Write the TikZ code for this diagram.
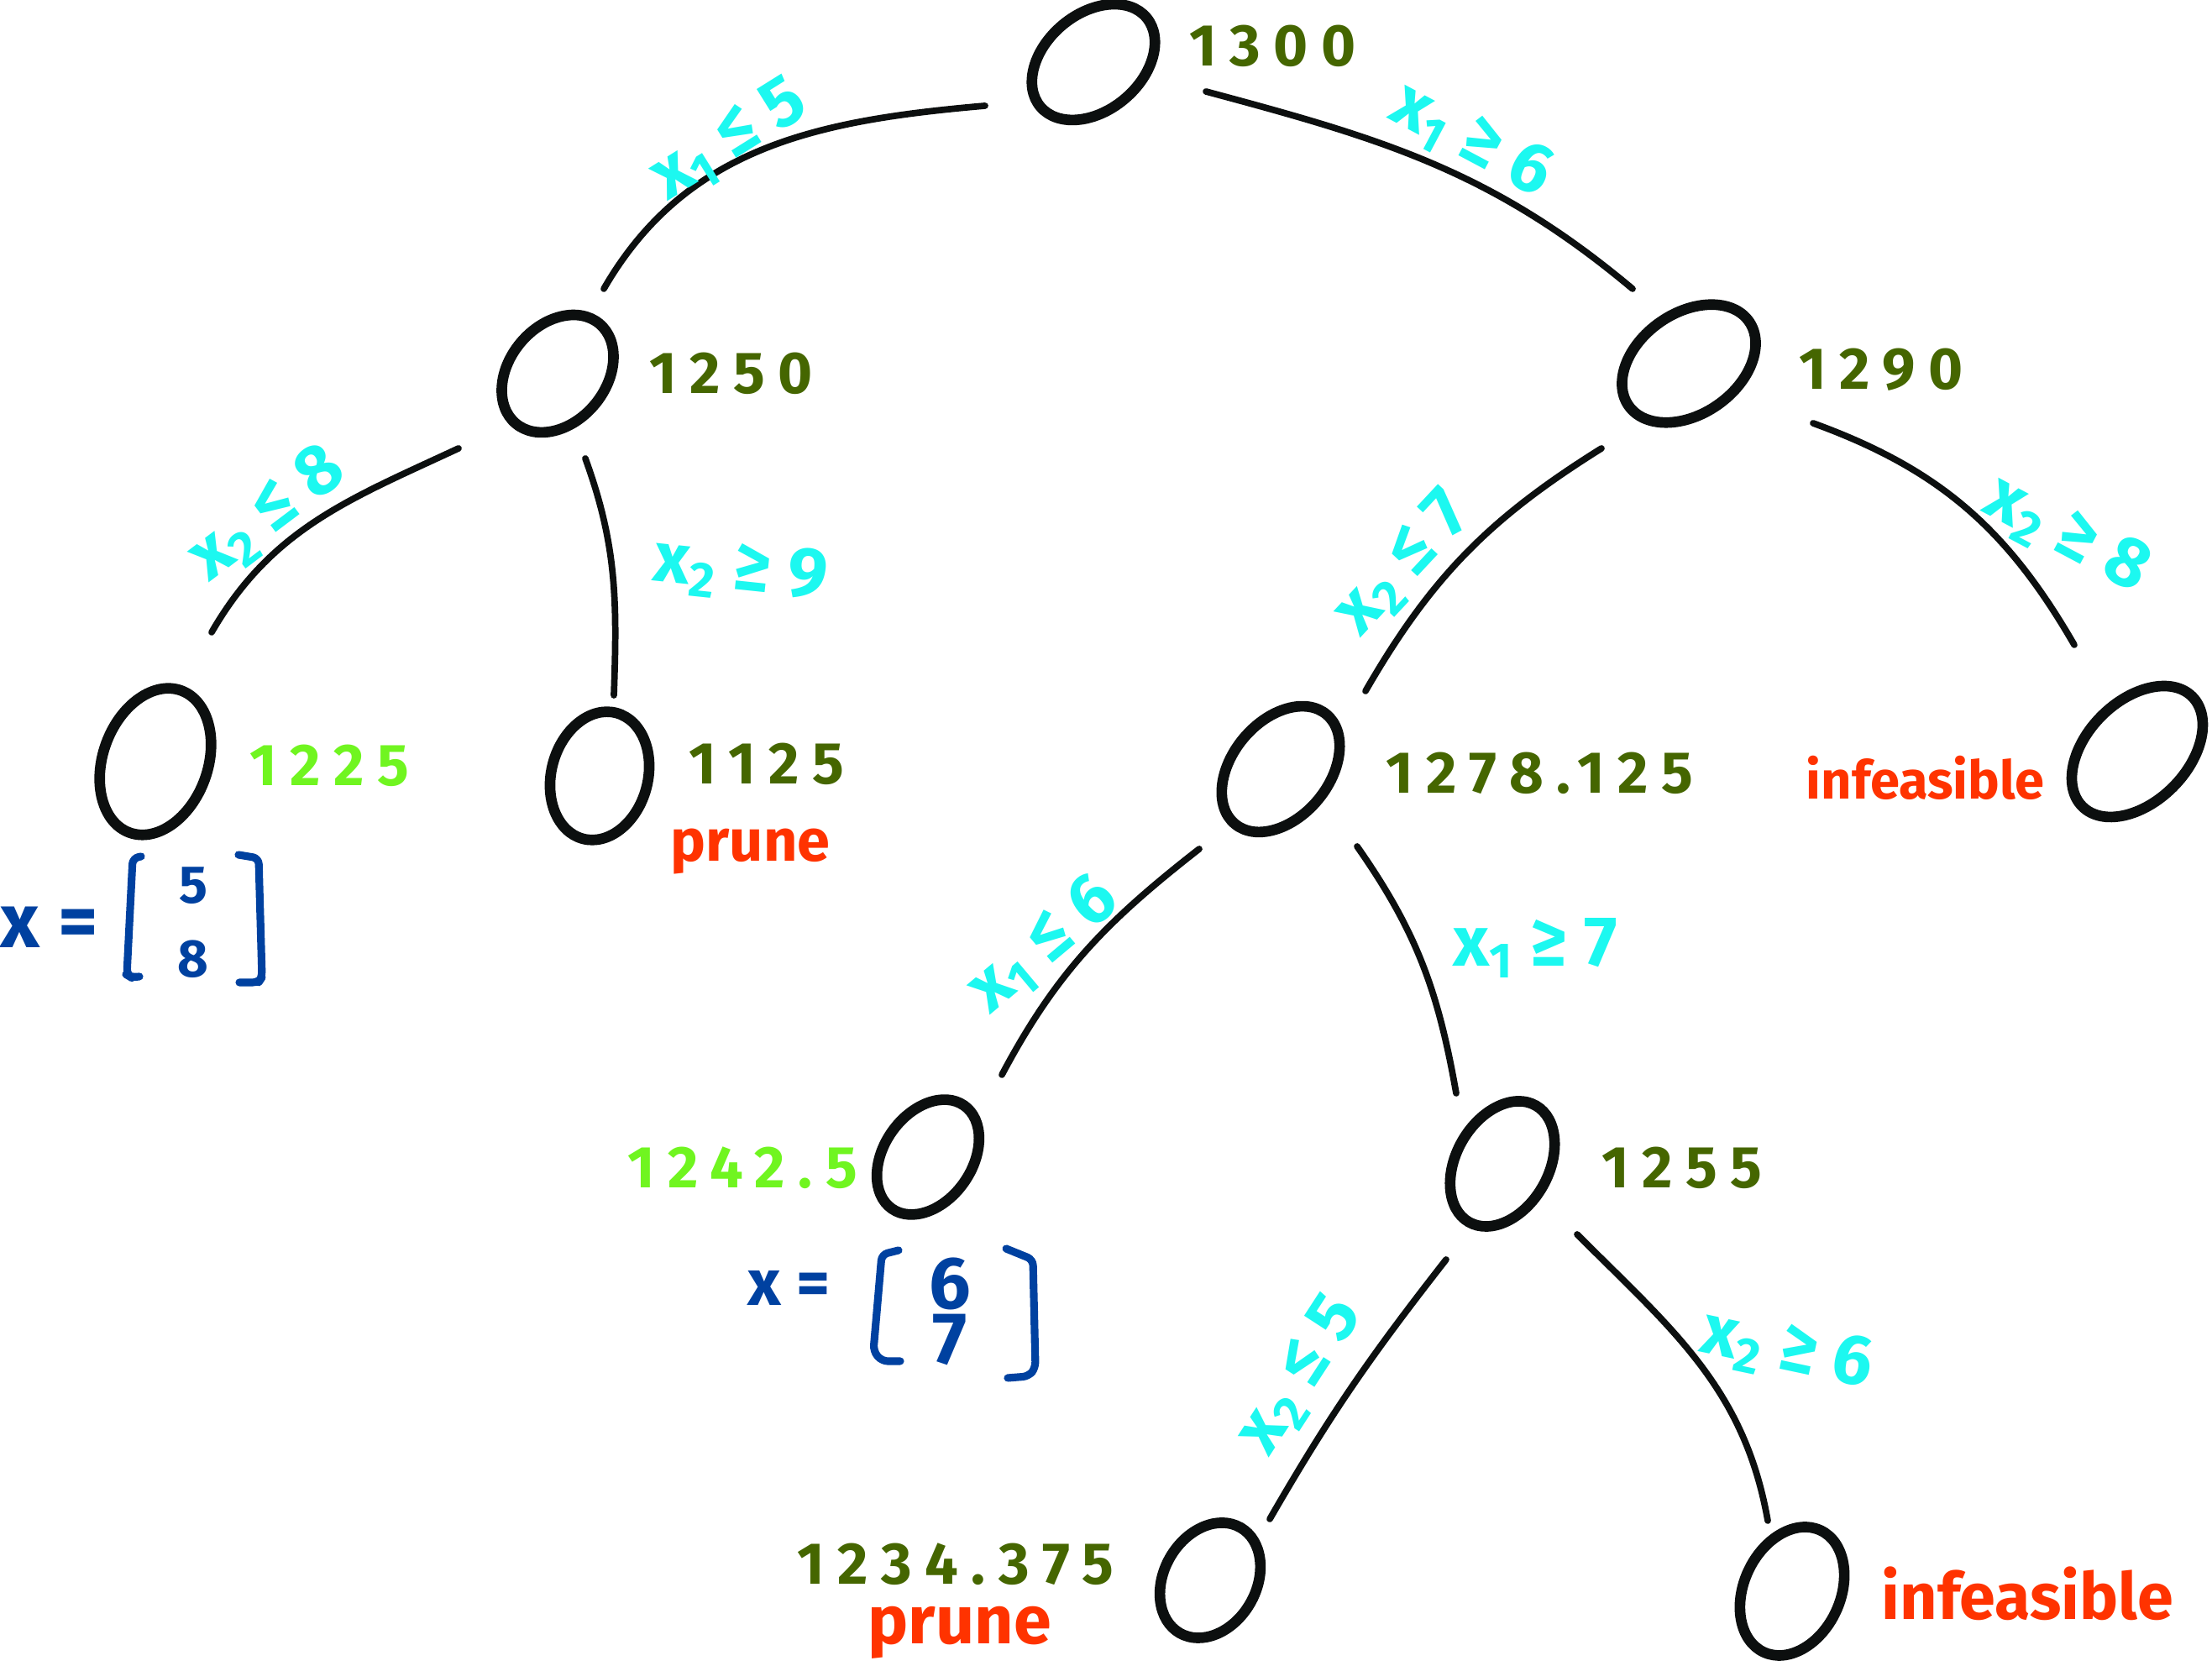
\documentclass[tikz,border=0pt]{standalone}
\usepackage{fontspec}
\setmainfont{Fira Sans}
\usetikzlibrary{shapes.geometric,calc}
\definecolor{ink}{HTML}{0C0F0F}
\definecolor{lblcyan}{HTML}{1CF8F0}
\definecolor{bndgreen}{HTML}{456600}
\definecolor{bndlime}{HTML}{70F520}
\definecolor{prunered}{HTML}{FF3300}
\definecolor{vecblue}{HTML}{0041A0}
\tikzset{
  bb/.style={ellipse, draw=ink, line width=3.6pt, inner sep=0pt},
  edge/.style={draw=ink, line width=2.2pt, line cap=round},
  bnd/.style={text=bndgreen, anchor=west, inner sep=0pt,
    font=\fontsize{20}{24}\selectfont\bfseries\addfontfeatures{LetterSpace=22}},
  bndl/.style={bnd, text=bndlime},
  status/.style={text=prunered, anchor=west, inner sep=0pt,
    font=\fontsize{20}{24}\selectfont\bfseries},
  elab/.style={text=lblcyan, inner sep=0pt,
    font=\fontsize{24}{28}\selectfont\bfseries},
  vec/.style={text=vecblue, inner sep=0pt, font=\fontsize{22}{26}\selectfont\bfseries},
  brk/.style={draw=vecblue, line width=2.6pt, line cap=round, line join=round, rounded corners=2pt}
}
\begin{document}
\begin{tikzpicture}[x=1cm,y=1cm]
\useasboundingbox (0,0) rectangle (26.34,19.84);
% tree nodes
\node[bb, minimum width=1.65cm, minimum height=1.15cm, rotate=40] (root) at (13.02,19.10) {};
\node[bb, minimum width=1.55cm, minimum height=1.15cm, rotate=50] (n1250) at (6.64,15.39) {};
\node[bb, minimum width=1.75cm, minimum height=1.20cm, rotate=35] (n1290) at (20.11,15.51) {};
\node[bb, minimum width=1.80cm, minimum height=1.25cm, rotate=70] (n1225) at (1.85,10.77) {};
\node[bb, minimum width=1.55cm, minimum height=1.15cm, rotate=75] (n1125) at (7.14,10.60) {};
\node[bb, minimum width=1.70cm, minimum height=1.15cm, rotate=50] (n1278) at (15.25,10.68) {};
\node[bb, minimum width=1.85cm, minimum height=1.20cm, rotate=45] (ninf1) at (25.45,10.89) {};
\node[bb, minimum width=1.50cm, minimum height=1.05cm, rotate=55] (n1242) at (11.05,6.06) {};
\node[bb, minimum width=1.60cm, minimum height=1.10cm, rotate=60] (n1255) at (17.89,5.98) {};
\node[bb, minimum width=1.45cm, minimum height=1.10cm, rotate=60] (n1234) at (14.41,1.02) {};
\node[bb, minimum width=1.60cm, minimum height=1.15cm, rotate=65] (ninf2) at (21.34,0.89) {};
% bounds
\node[bnd] (l1300) at (14.16,19.29) {1300};
\node[bnd] (l1250) at (7.73,15.39) {1250};
\node[bnd] (l1290) at (21.42,15.44) {1290};
\node[bndl] (l1225) at (2.97,10.72) {1225};
\node[bnd] (l1125) at (8.20,10.74) {1125};
\node[status] (p1) at (7.98,9.70) {prune};
\node[bnd] (l1278) at (16.50,10.63) {1278.125};
\node[status, font=\fontsize{18}{22}\selectfont\bfseries] (i1) at (21.50,10.58) {infeasible};
\node[bndl, anchor=east] (l1242) at (10.22,5.93) {1242.5};
\node[bnd] (l1255) at (19.07,5.93) {1255};
\node[bnd] (l1234) at (9.49,1.21) {1234.375};
\node[status, font=\fontsize{23}{27}\selectfont\bfseries] (p2) at (10.33,0.40) {prune};
\node[status, font=\fontsize{22}{26}\selectfont\bfseries] (i2) at (22.40,0.86) {infeasible};
% edges
\draw[edge] ($(root)+(-1.29,-0.52)$) to[out=185,in=60] ($(n1250)+(0.55,1.01)$);
\draw[edge] ($(root)+(1.34,-0.35)$) to[out=-15,in=140] ($(n1290)+(-0.67,0.89)$);
\draw[edge] ($(n1250)+(-1.18,-0.89)$) to[out=205,in=60] ($(n1225)+(0.67,1.54)$);
\draw[edge] ($(n1250)+(0.33,-1.01)$) to[out=-70,in=88] ($(n1125)+(0.17,0.96)$);
\draw[edge] ($(n1290)+(-1.04,-1.01)$) to[out=212,in=60] ($(n1278)+(1.01,0.93)$);
\draw[edge] ($(n1290)+(1.48,-0.71)$) to[out=-20,in=120] ($(ninf1)+(-0.75,1.27)$);
\draw[edge] ($(n1278)+(-0.97,-0.95)$) to[out=218,in=62] ($(n1242)+(0.88,0.98)$);
\draw[edge] ($(n1278)+(0.91,-0.92)$) to[out=-55,in=100] ($(n1255)+(-0.55,0.84)$);
\draw[edge] ($(n1255)+(-0.67,-1.14)$) to[out=232,in=60] ($(n1234)+(0.71,0.73)$);
\draw[edge] ($(n1255)+(0.89,-0.84)$) to[out=-45,in=100] ($(ninf2)+(-0.29,0.84)$);
% edge labels
\node[elab, rotate=32] (e1) at (8.69,18.16) {x\textsubscript{1} ≤ 5};
\node[elab, rotate=-28] (e2) at (17.52,18.16) {x\textsubscript{1} ≥ 6};
\node[elab, rotate=37] (e3) at (3.19,13.71) {x\textsubscript{2} ≤ 8};
\node[elab, rotate=-6] (e4) at (8.82,13.04) {x\textsubscript{2} ≥ 9};
\node[elab, rotate=47] (e5) at (16.72,13.12) {x\textsubscript{2} ≤ 7};
\node[elab, rotate=-28] (e6) at (24.61,13.46) {x\textsubscript{2} ≥ 8};
\node[elab, rotate=40] (e7) at (12.43,8.58) {x\textsubscript{1} ≤ 6};
\node[elab] (e8) at (18.28,8.55) {x\textsubscript{1} ≥ 7};
\node[elab, rotate=57] (e9) at (15.49,3.46) {x\textsubscript{2} ≤ 5};
\node[elab, rotate=-12] (e10) at (21.28,3.75) {x\textsubscript{2} ≥ 6};
% solution vectors
\node[vec, anchor=west, font=\fontsize{26}{30}\selectfont\bfseries] (xa) at (0.0,8.80) {x =};
\node[vec, font=\fontsize{18}{22}\selectfont\bfseries] (xa1) at (2.30,9.29) {5};
\node[vec, font=\fontsize{18}{22}\selectfont\bfseries] (xa2) at (2.30,8.42) {8};
\draw[brk] (1.68,9.64) -- (1.58,9.62) -- (1.51,8.23) -- (1.56,8.20) -- (1.66,8.21);
\draw[brk] (2.84,9.66) -- (3.08,9.62) -- (3.12,8.20) -- (3.08,8.14) -- (2.85,8.14);
\node[vec] (xb) at (9.40,4.50) {x =};
\node[vec, font=\fontsize{25}{30}\selectfont\bfseries] (xb1) at (11.31,4.55) {6};
\node[vec, font=\fontsize{25}{30}\selectfont\bfseries] (xb2) at (11.31,3.88) {7};
\draw[brk] (10.70,4.95) -- (10.50,4.90) -- (10.40,3.75) -- (10.50,3.63) -- (10.72,3.63);
\draw[brk] (11.98,4.97) -- (12.30,4.84) -- (12.33,3.55) -- (12.25,3.45) -- (12.00,3.43);
\end{tikzpicture}
\end{document}
